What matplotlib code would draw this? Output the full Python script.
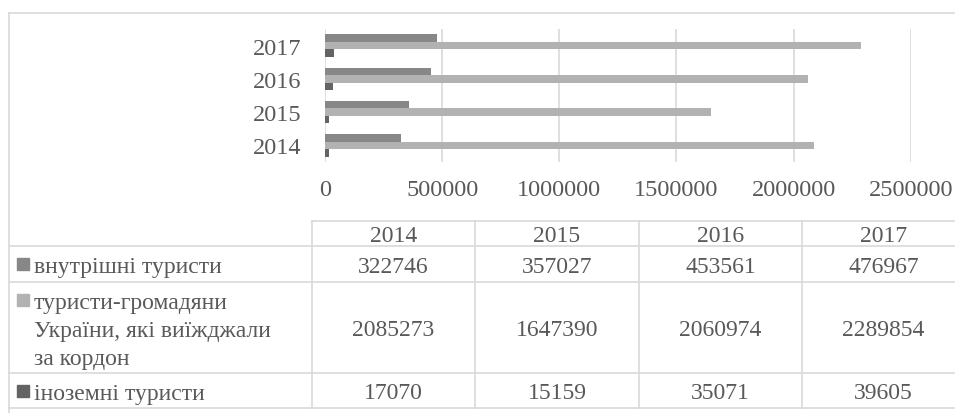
import numpy as np
import matplotlib
matplotlib.use('Agg')
from matplotlib import pyplot as plt
from matplotlib.lines import Line2D
from matplotlib.patches import Rectangle

years = ['2014', '2015', '2016', '2017']
series_names = ['внутрішні туристи',
                'туристи-громадяни\nУкраїни, які виїжджали\nза кордон',
                'іноземні туристи']
domestic = [322746, 357027, 453561, 476967]
outbound = [2085273, 1647390, 2060974, 2289854]
foreign = [17070, 15159, 35071, 39605]
x_ticks = [0, 500000, 1000000, 1500000, 2000000, 2500000]

colors = ['#878787', '#b2b2b2', '#636363']
text_c = '#595959'
grid_c = '#d9d9d9'

plt.rcParams['font.family'] = ['Liberation Serif', 'DejaVu Serif']

W, H = 955, 414
fig = plt.figure(figsize=(W / 100, H / 100), dpi=100)

def fx(x):
    return x / W

def fy(y):
    return 1 - y / H

# bar chart area
ax = fig.add_axes([fx(325), fy(163), fx(910.7 - 325), (163 - 30) / H])
pos = np.arange(len(years))
h = 0.225
values = [domestic, outbound, foreign]
for i, vals in enumerate(values):
    ax.barh(pos + (1 - i) * h, vals, height=h, color=colors[i], zorder=3)
ax.set_xlim(0, 2500000)
ax.set_ylim(-0.5, 3.5)
ax.set_xticks(x_ticks)
ax.set_xticklabels([str(t) for t in x_ticks])
ax.set_yticks(pos)
ax.set_yticklabels(years)
ax.tick_params(length=0, labelsize=17.5, colors=text_c)
ax.tick_params(axis='x', pad=12)
ax.tick_params(axis='y', pad=17)
for s in ax.spines.values():
    s.set_visible(False)
ax.grid(axis='x', color=grid_c, linewidth=1.2, zorder=0)

# outer frame
def hline(y, x0, x1):
    fig.add_artist(Line2D([fx(x0), fx(x1)], [fy(y), fy(y)], color=grid_c, lw=1.2))

def vline(x, y0, y1):
    fig.add_artist(Line2D([fx(x), fx(x)], [fy(y0), fy(y1)], color=grid_c, lw=1.2))

hline(14, 9, W)
vline(9, 14, H)

# data table
col_x = [312, 475, 639, 802, 965]
row_y = [222, 247, 283, 374, 409]
hline(row_y[0], col_x[0], W)
for y in row_y[1:]:
    hline(y, 9, W)
for x in col_x[:-1]:
    vline(x, row_y[0], row_y[-1])

fs = 17
for j, yr in enumerate(years):
    cx = (col_x[j] + col_x[j + 1]) / 2
    fig.text(fx(cx), fy((row_y[0] + row_y[1]) / 2 + 7.5), yr, ha='center',
             va='baseline', fontsize=fs, color=text_c)

for i, vals in enumerate(values):
    top, bot = row_y[i + 1], row_y[i + 2]
    cy = (top + bot) / 2
    for j, v in enumerate(vals):
        cx = (col_x[j] + col_x[j + 1]) / 2
        fig.text(fx(cx), fy(cy + 8), str(v), ha='center', va='baseline',
                 fontsize=fs, color=text_c)
    base = top + 26
    fig.add_artist(Rectangle((fx(17), fy(base - 2)), 12 / W, 12 / H,
                             transform=fig.transFigure, color=colors[i]))
    for k, line in enumerate(series_names[i].split('\n')):
        fig.text(fx(34), fy(base + k * 28), line, ha='left', va='baseline',
                 fontsize=fs, color=text_c)

fig.savefig('out.png', dpi=100)
plt.close()
